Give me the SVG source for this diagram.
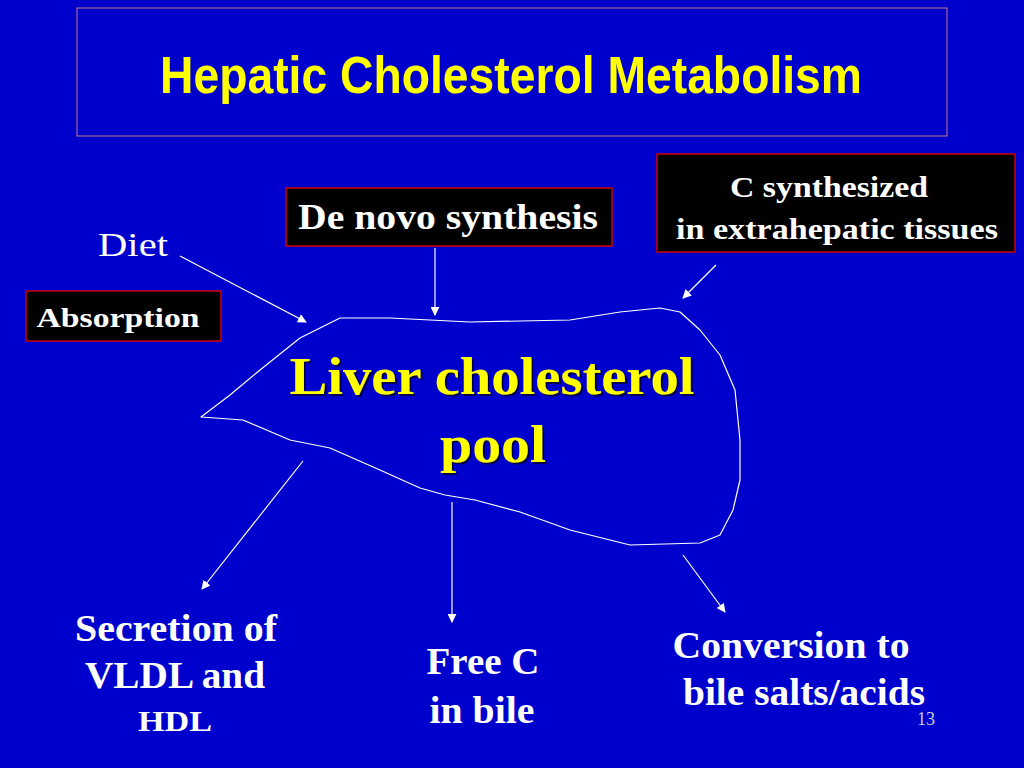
<svg xmlns="http://www.w3.org/2000/svg" width="1024" height="768" viewBox="0 0 1024 768">
<defs>
<marker id="ah" viewBox="0 0 10 10" refX="9" refY="5" markerWidth="9" markerHeight="9" markerUnits="userSpaceOnUse" orient="auto"><path d="M0,0 L10,5 L0,10 z" fill="#fff"/></marker>
<filter id="sh"><feDropShadow dx="2" dy="2" stdDeviation="0.5" flood-color="#000" flood-opacity="0.6"/></filter>
</defs>
<style>
.w{font-family:"Liberation Serif","Times New Roman",serif;font-weight:bold;fill:#fff;text-anchor:middle}
.box{fill:#000;stroke:#cc0000;stroke-width:1.5}
.c line{stroke:#fff;stroke-width:1.2;marker-end:url(#ah)}
</style>
<rect width="1024" height="768" fill="#0000cc"/>
<g id="title">
<rect x="77" y="8" width="870" height="128" fill="none" stroke="#c08080" stroke-width="1"/>
<text x="511" y="93" font-family="'Liberation Sans',Arial,sans-serif" font-weight="bold" font-size="52" fill="#ffff00" text-anchor="middle" textLength="702" lengthAdjust="spacingAndGlyphs">Hepatic Cholesterol Metabolism</text>
</g>
<g id="liver">
<path d="M201,417 L230,395 L260,370 L300,338 L340,318 L390,318 L470,322 L570,320 L620,312 L660,308 L680,312 L700,330 L720,355 L735,390 L740,440 L740,480 L733,510 L720,535 L700,543 L630,545 L570,530 L520,512 L475,500 L445,495 L420,488 L380,470 L330,448 L290,440 L243,420 Z" fill="none" stroke="#fff" stroke-width="1.2" stroke-linejoin="round"/>
<g filter="url(#sh)" font-family="'Liberation Serif','Times New Roman',serif" font-weight="bold" font-size="52" fill="#ffff00" text-anchor="middle">
<text x="492" y="394" textLength="405" lengthAdjust="spacingAndGlyphs">Liver cholesterol</text>
<text x="493" y="462" textLength="106" lengthAdjust="spacingAndGlyphs">pool</text>
</g>
</g>
<g id="diet"><text x="133" y="256" font-family="'Liberation Serif',serif" font-size="34" fill="#fff" text-anchor="middle" textLength="70" lengthAdjust="spacingAndGlyphs">Diet</text></g>
<g id="absorption"><rect class="box" x="26" y="291" width="195" height="50"/><text class="w" x="118" y="327" font-size="28" textLength="163" lengthAdjust="spacingAndGlyphs">Absorption</text></g>
<g id="denovo"><rect class="box" x="286" y="188" width="326" height="58"/><text class="w" x="448" y="229" font-size="36" textLength="300" lengthAdjust="spacingAndGlyphs">De novo synthesis</text></g>
<g id="extra"><rect class="box" x="657" y="154" width="358" height="98"/><text class="w" x="829" y="197" font-size="30" textLength="198" lengthAdjust="spacingAndGlyphs">C synthesized</text><text class="w" x="837" y="239" font-size="30" textLength="322" lengthAdjust="spacingAndGlyphs">in extrahepatic tissues</text></g>
<g id="vldl"><text class="w" x="176" y="641" font-size="38" textLength="202" lengthAdjust="spacingAndGlyphs">Secretion of</text><text class="w" x="175" y="688" font-size="38" textLength="180" lengthAdjust="spacingAndGlyphs">VLDL and</text><text class="w" x="175" y="731" font-size="30" textLength="74" lengthAdjust="spacingAndGlyphs">HDL</text></g>
<g id="free"><text class="w" x="483" y="674" font-size="38" textLength="113" lengthAdjust="spacingAndGlyphs">Free C</text><text class="w" x="482" y="723" font-size="38" textLength="105" lengthAdjust="spacingAndGlyphs">in bile</text></g>
<g id="bile"><text class="w" x="791" y="658" font-size="38" textLength="237" lengthAdjust="spacingAndGlyphs">Conversion to</text><text class="w" x="804" y="705" font-size="38" textLength="242" lengthAdjust="spacingAndGlyphs">bile salts/acids</text></g>
<text x="926" y="725" font-family="'Liberation Serif',serif" font-size="18" fill="#ccc" text-anchor="middle">13</text>
<g class="c" id="connectors">
<line x1="180" y1="256" x2="306" y2="322"/>
<line x1="435" y1="248" x2="435" y2="315"/>
<line x1="716" y1="265" x2="683" y2="298"/>
<line x1="303" y1="461" x2="202" y2="589"/>
<line x1="452" y1="502" x2="452" y2="622"/>
<line x1="683" y1="555" x2="725" y2="612"/>
</g>
</svg>
